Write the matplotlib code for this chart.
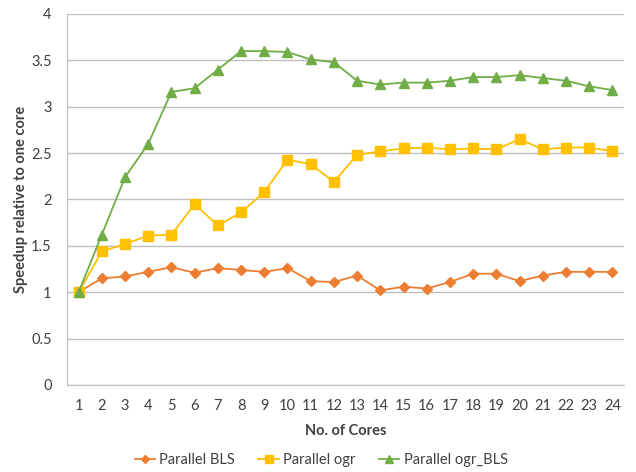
import matplotlib.pyplot as plt

cores = list(range(1, 25))
bls = [1.00, 1.15, 1.17, 1.22, 1.27, 1.21, 1.26, 1.24, 1.22, 1.26, 1.12, 1.11,
       1.18, 1.02, 1.06, 1.04, 1.11, 1.20, 1.20, 1.12, 1.18, 1.22, 1.22, 1.22]
ogr = [1.00, 1.44, 1.52, 1.61, 1.62, 1.95, 1.72, 1.86, 2.08, 2.43, 2.38, 2.19,
       2.48, 2.52, 2.55, 2.56, 2.54, 2.55, 2.54, 2.65, 2.54, 2.56, 2.56, 2.52]
ogr_bls = [1.00, 1.62, 2.24, 2.60, 3.16, 3.20, 3.40, 3.60, 3.60, 3.59, 3.51, 3.48,
           3.28, 3.24, 3.26, 3.26, 3.28, 3.32, 3.32, 3.34, 3.31, 3.28, 3.22, 3.18]

plt.rcParams['font.family'] = ['Lato', 'DejaVu Sans']

fig = plt.figure(figsize=(6.36, 4.72), dpi=100)
ax = fig.add_axes([67 / 636, 87 / 472, 557 / 636, 371 / 472])

ax.plot(cores, bls, color='#ED7D31', marker='D', markersize=5, linewidth=1.3, label='Parallel BLS')
ax.plot(cores, ogr, color='#FFC000', marker='s', markersize=7, linewidth=1.3, label='Parallel ogr')
ax.plot(cores, ogr_bls, color='#70AD47', marker='^', markersize=7, linewidth=1.3, label='Parallel ogr_BLS')

ax.set_xlim(0.5, 24.5)
ax.set_ylim(0, 4)
ax.set_xticks(cores)
ax.set_yticks([0, 0.5, 1, 1.5, 2, 2.5, 3, 3.5, 4])
ax.set_yticklabels(['0', '0.5', '1', '1.5', '2', '2.5', '3', '3.5', '4'])
ax.tick_params(length=0, labelsize=10.5, colors='#404040', pad=10)
ax.tick_params(axis='y', pad=11)
ax.grid(axis='y', color='#BFBFBF', linewidth=1)
ax.set_axisbelow(True)
for side in ['top', 'right']:
    ax.spines[side].set_visible(False)
for side in ['left', 'bottom']:
    ax.spines[side].set_color('#BFBFBF')

ax.set_xlabel('No. of Cores', fontsize=10.5, fontweight='bold', color='#404040', labelpad=8)
ax.set_ylabel('Speedup relative to one core', fontsize=10.5, fontweight='bold', color='#404040')
ax.yaxis.set_label_coords(-0.07, 0.5)

fig.legend(loc='center', bbox_to_anchor=(0.505, 12 / 472), ncol=3, frameon=False,
           fontsize=10.5, handlelength=1.4, handletextpad=0.3, columnspacing=1.6,
           markerscale=0.8, labelcolor='#404040')

fig.savefig('out.png', dpi=100)
